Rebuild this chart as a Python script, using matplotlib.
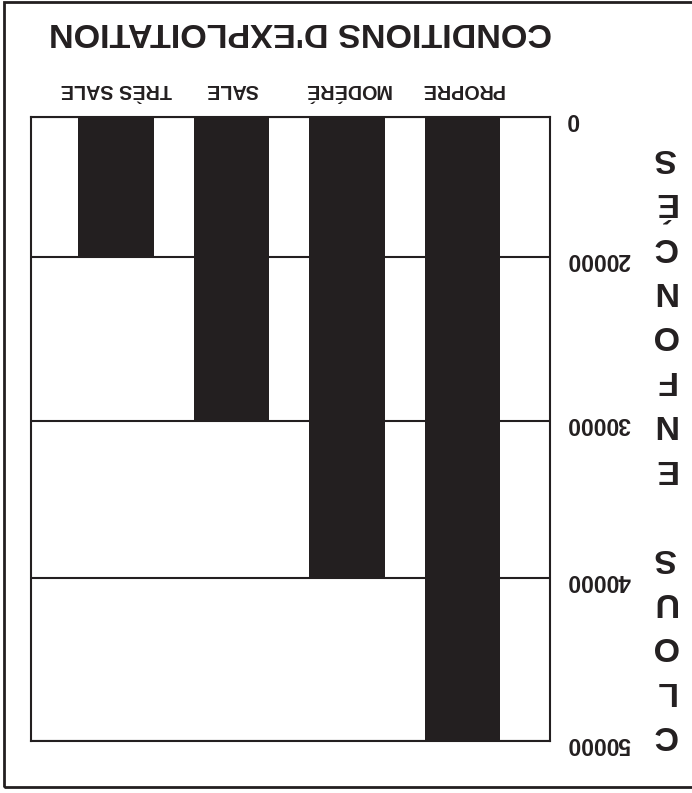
import numpy as np
import matplotlib
matplotlib.use("Agg")
import matplotlib.pyplot as plt
from matplotlib.patches import Rectangle

# ---- data ----
categories = ["PROPRE", "MODÉRÉ", "SALE", "TRÈS SALE"]
values = [50000, 40000, 30000, 20000]
tick_values = [0, 20000, 30000, 40000, 50000]
tick_labels = ["0", "20000", "30000", "40000", "50000"]
title = "CONDITIONS D'EXPLOITATION"
side_label = "CLOUS ENFONCÉS"

W, H = 692, 793
DPI = 100
INK = "#231F20"
FONT = "Liberation Sans"

fig = plt.figure(figsize=(W / DPI, H / DPI), dpi=DPI)

def fx(px):
    return px / W

def fy(py):
    return 1 - py / H

# axes frame in pixels: x 31..550, y 117..741
ax = fig.add_axes([fx(31), fy(741), fx(550) - fx(31), fy(117) - fy(741)])

# broken (piecewise) value scale as in the original
knots_v = np.array([0, 20000, 30000, 40000, 50000], dtype=float)
knots_p = np.array([0, 140, 304, 461, 624], dtype=float) / 624.0

def fwd(v):
    return np.interp(v, knots_v, knots_p)

def inv(p):
    return np.interp(p, knots_p, knots_v)

ax.set_yscale("function", functions=(fwd, inv))
ax.set_ylim(50000, 0)

x = np.arange(len(categories))
ax.bar(x, values, width=0.654, color=INK, zorder=3)
ax.set_xlim(3.736, -0.758)

ax.set_yticks(tick_values)
ax.set_yticklabels(tick_labels)
ax.yaxis.tick_right()
ax.tick_params(axis="y", length=0, pad=12, labelrotation=180,
               labelsize=16.5, labelcolor=INK)
for t in ax.get_yticklabels():
    t.set_fontfamily(FONT)
    t.set_fontweight("bold")
ax.set_xticks([])
ax.yaxis.grid(True, color=INK, linewidth=1.5)
ax.set_axisbelow(True)
for s in ax.spines.values():
    s.set_color(INK)
    s.set_linewidth(1.5)

# category labels (upside down), above bars
for i, c in enumerate(categories):
    ax.text(i, 1 + 33 / 624, c, transform=ax.get_xaxis_transform(),
            rotation=180, rotation_mode="anchor", ha="center", va="baseline",
            fontsize=14.2, fontweight="bold", family=FONT, color=INK)

# title (upside down)
fig.text(fx(301), fy(23), title, rotation=180, rotation_mode="anchor",
         ha="center", va="baseline", fontsize=24.6, fontweight="bold",
         family=FONT, color=INK)

# vertical stacked side label (upside down)
fig.text(fx(664), fy(446), "\n".join(side_label), rotation=180,
         rotation_mode="anchor", ha="center", va="center", multialignment="center",
         fontsize=24.5, fontweight="bold", family=FONT, color=INK,
         linespacing=1.56)

# outer frame (right side runs off the picture)
fig.patches.append(Rectangle((fx(3.5), fy(787)), fx(720) - fx(3.5), fy(1.5) - fy(787),
                             transform=fig.transFigure, fill=False, edgecolor=INK,
                             linewidth=2.0))

fig.savefig("out.png", dpi=DPI)
